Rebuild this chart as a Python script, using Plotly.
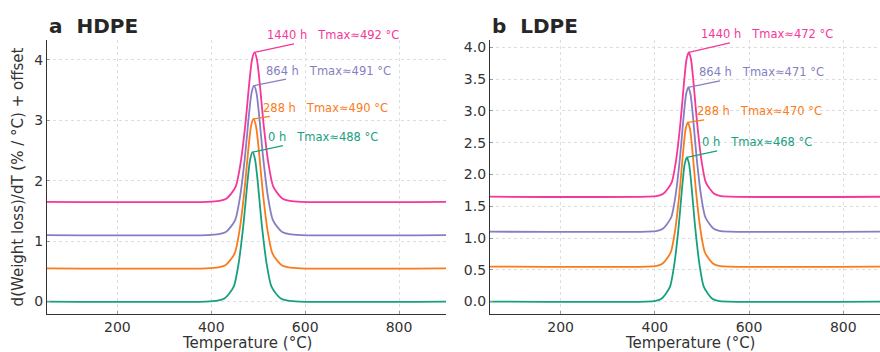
import plotly.graph_objects as go

# ---------------- data ----------------
labels = ["0 h", "288 h", "864 h", "1440 h"]
colors = ["#17a07f", "#fa7b1c", "#857fc2", "#f5369a"]

hdpe_tmax = [488, 490, 491, 492]
ldpe_tmax = [468, 470, 471, 472]

hdpe_T_0h = [50, 388, 413, 428, 438, 448, 458, 468, 478, 483, 488, 493, 498, 508, 518, 528, 538, 548, 563, 588, 900]
hdpe_y_0h = [0, 0, 0.015, 0.05, 0.13, 0.25, 0.62, 1.24, 2.05, 2.36, 2.47, 2.36, 2.05, 1.24, 0.62, 0.25, 0.13, 0.05, 0.015, 0, 0]
hdpe_T_288h = [50, 390, 415, 430, 440, 450, 460, 470, 480, 485, 490, 495, 500, 510, 520, 530, 540, 550, 565, 590, 900]
hdpe_y_288h = [0.55, 0.55, 0.565, 0.60, 0.68, 0.80, 1.17, 1.79, 2.60, 2.91, 3.02, 2.91, 2.60, 1.79, 1.17, 0.80, 0.68, 0.60, 0.565, 0.55, 0.55]
hdpe_T_864h = [50, 391, 416, 431, 441, 451, 461, 471, 481, 486, 491, 496, 501, 511, 521, 531, 541, 551, 566, 591, 900]
hdpe_y_864h = [1.10, 1.10, 1.115, 1.15, 1.23, 1.35, 1.72, 2.34, 3.15, 3.46, 3.57, 3.46, 3.15, 2.34, 1.72, 1.35, 1.23, 1.15, 1.115, 1.10, 1.10]
hdpe_T_1440h = [50, 392, 417, 432, 442, 452, 462, 472, 482, 487, 492, 497, 502, 512, 522, 532, 542, 552, 567, 592, 900]
hdpe_y_1440h = [1.65, 1.65, 1.665, 1.70, 1.78, 1.90, 2.27, 2.89, 3.70, 4.01, 4.12, 4.01, 3.70, 2.89, 2.27, 1.90, 1.78, 1.70, 1.665, 1.65, 1.65]

ldpe_T_0h = [50, 380, 402, 414, 423, 432, 441, 450, 459, 463.5, 468, 472.5, 477, 486, 495, 504, 513, 522, 534, 556, 900]
ldpe_y_0h = [0, 0, 0.012, 0.045, 0.12, 0.23, 0.57, 1.14, 1.88, 2.17, 2.27, 2.17, 1.88, 1.14, 0.57, 0.23, 0.12, 0.045, 0.012, 0, 0]
ldpe_T_288h = [50, 382, 404, 416, 425, 434, 443, 452, 461, 465.5, 470, 474.5, 479, 488, 497, 506, 515, 524, 536, 558, 900]
ldpe_y_288h = [0.55, 0.55, 0.562, 0.595, 0.67, 0.78, 1.12, 1.69, 2.43, 2.72, 2.82, 2.72, 2.43, 1.69, 1.12, 0.78, 0.67, 0.595, 0.562, 0.55, 0.55]
ldpe_T_864h = [50, 383, 405, 417, 426, 435, 444, 453, 462, 466.5, 471, 475.5, 480, 489, 498, 507, 516, 525, 537, 559, 900]
ldpe_y_864h = [1.10, 1.10, 1.112, 1.145, 1.22, 1.33, 1.67, 2.24, 2.98, 3.27, 3.37, 3.27, 2.98, 2.24, 1.67, 1.33, 1.22, 1.145, 1.112, 1.10, 1.10]
ldpe_T_1440h = [50, 384, 406, 418, 427, 436, 445, 454, 463, 467.5, 472, 476.5, 481, 490, 499, 508, 517, 526, 538, 560, 900]
ldpe_y_1440h = [1.65, 1.65, 1.662, 1.695, 1.77, 1.88, 2.22, 2.79, 3.53, 3.82, 3.92, 3.82, 3.53, 2.79, 2.22, 1.88, 1.77, 1.695, 1.662, 1.65, 1.65]

hdpe_ticks_y = [0, 1, 2, 3, 4]
ldpe_ticks_y = [0.0, 0.5, 1.0, 1.5, 2.0, 2.5, 3.0, 3.5, 4.0]
x_ticks = [200, 400, 600, 800]

hdpe_series = [(hdpe_T_0h, hdpe_y_0h), (hdpe_T_288h, hdpe_y_288h), (hdpe_T_864h, hdpe_y_864h), (hdpe_T_1440h, hdpe_y_1440h)]
ldpe_series = [(ldpe_T_0h, ldpe_y_0h), (ldpe_T_288h, ldpe_y_288h), (ldpe_T_864h, ldpe_y_864h), (ldpe_T_1440h, ldpe_y_1440h)]

# label text offsets (pixels) from each peak
hdpe_label_off = [(70, -15), (72, -11), (74, -15), (79, -17)]
ldpe_label_off = [(70, -15), (72, -11), (73, -15), (78, -18)]

FONT = "DejaVu Sans"
NBSP3 = "\u00a0\u00a0\u00a0"

fig = go.Figure()
annotations = []

for panel, (series, tmaxes, offs, xa, ya) in enumerate([
        (hdpe_series, hdpe_tmax, hdpe_label_off, "x", "y"),
        (ldpe_series, ldpe_tmax, ldpe_label_off, "x2", "y2")]):
    for i, (T, Y) in enumerate(series):
        fig.add_trace(go.Scatter(x=T, y=Y, mode="lines", xaxis=xa, yaxis=ya,
                                 line=dict(color=colors[i], width=1.8, shape="spline", smoothing=0.8),
                                 showlegend=False, hoverinfo="skip"))
        ipk = Y.index(max(Y))
        annotations.append(dict(
            x=T[ipk], y=Y[ipk], xref=xa, yref=ya,
            ax=offs[i][0], ay=offs[i][1], axref="pixel", ayref="pixel",
            text=f"{labels[i]}{NBSP3}Tmax\u2248{tmaxes[i]} \u00b0C",
            showarrow=True, arrowhead=0, arrowwidth=1.2, arrowcolor=colors[i],
            standoff=0, startstandoff=0,
            font=dict(family=FONT, size=11.5, color=colors[i]),
            xanchor="center", yanchor="middle", borderpad=1))

W, H = 880, 352
ml, mr, mt, mb = 47, 0, 40, 38
pw = W - ml - mr
ph = H - mt - mb

left_dom = [0, (446 - ml) / pw]
right_dom = [(490 - ml) / pw, 1.0]

# panel titles
annotations.append(dict(text="<b>a\u00a0\u00a0HDPE</b>", xref="paper", yref="paper", x=0, y=1 + 14 / ph,
                        xanchor="left", yanchor="middle", showarrow=False,
                        font=dict(family=FONT, size=20, color="#262626")))
annotations.append(dict(text="<b>b\u00a0\u00a0LDPE</b>", xref="paper", yref="paper", x=right_dom[0], y=1 + 14 / ph,
                        xanchor="left", yanchor="middle", showarrow=False,
                        font=dict(family=FONT, size=20, color="#262626")))
# x-axis titles
for xa in ["x", "x2"]:
    annotations.append(dict(text="Temperature (\u00b0C)", xref=xa, yref="paper", x=475, y=-29 / ph,
                            xanchor="center", yanchor="middle", showarrow=False,
                            font=dict(family=FONT, size=15, color="#333333")))

axis_common = dict(showline=True, linecolor="#333333", linewidth=1.3, mirror=False,
                   ticks="inside", ticklen=3, tickcolor="#999999", tickwidth=1,
                   showgrid=True, gridcolor="#dedede", gridwidth=0.8, griddash="dot",
                   zeroline=False, tickfont=dict(family=FONT, size=14, color="#333333"))

fig.update_layout(
    width=W, height=H,
    margin=dict(l=ml, r=mr, t=mt, b=mb),
    paper_bgcolor="white", plot_bgcolor="white",
    font=dict(family=FONT),
    xaxis=dict(domain=left_dom, range=[50, 900], tickvals=x_ticks, anchor="y", **axis_common),
    yaxis=dict(domain=[0, 1], range=[-0.206, 4.326], tickvals=hdpe_ticks_y, anchor="x",
               title=dict(text="d(Weight loss)/dT (% / \u00b0C) + offset",
                          font=dict(family=FONT, size=15, color="#333333"), standoff=6),
               **axis_common),
    xaxis2=dict(domain=right_dom, range=[50, 878], tickvals=x_ticks, anchor="y2", **axis_common),
    yaxis2=dict(domain=[0, 1], range=[-0.196, 4.116], tickvals=ldpe_ticks_y, tickformat=".1f",
                anchor="x2", **axis_common),
    annotations=annotations,
)

fig.write_html("out.html")
